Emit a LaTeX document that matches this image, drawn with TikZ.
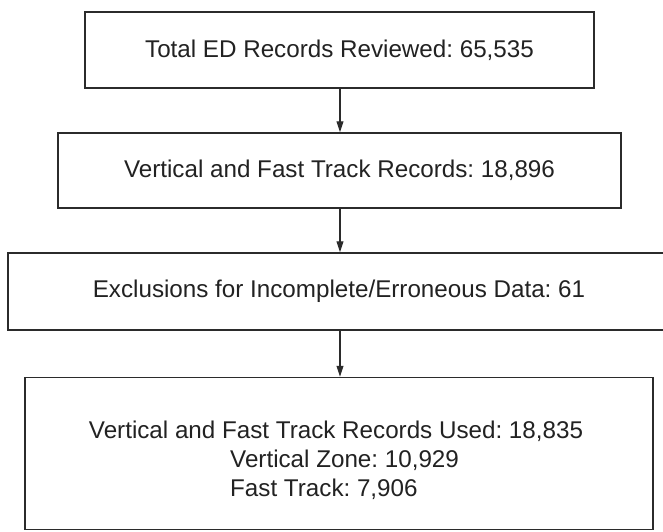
\documentclass[tikz,border=0pt]{standalone}
\usepackage{fontspec}
\setmainfont{Liberation Sans}
\usetikzlibrary{arrows.meta}
\definecolor{linec}{HTML}{2B2B2B}
\definecolor{textc}{HTML}{222222}
\tikzset{
  flowbox/.style={draw=linec, line width=1.5pt, rectangle, inner sep=0pt, text=textc,
    font=\fontsize{24.2}{29}\selectfont\frenchspacing},
  linetext/.style={inner sep=0pt, text=textc, font=\fontsize{24.2}{29}\selectfont\frenchspacing, anchor=base},
  flowarrow/.style={draw=linec, line width=1.1pt, -{Triangle[length=11pt,width=7pt]}}
}
\begin{document}
\begin{tikzpicture}[x=1pt,y=-1pt]
\useasboundingbox (0,0) rectangle (663,531);
\fill[white] (0,0) rectangle (663,531);
\node[flowbox, minimum width=509pt, minimum height=76pt] (b1) at (339.5,50) {Total ED Records Reviewed: 65,535};
\node[flowbox, minimum width=563pt, minimum height=75pt] (b2) at (339.5,170.5) {Vertical and Fast Track Records: 18,896};
\node[flowbox, minimum width=662pt, minimum height=77pt] (b3) at (339,291.5) {Exclusions for Incomplete/Erroneous Data: 61};
\node[flowbox, minimum width=628pt, minimum height=152pt] (b4) at (339,453.5) {};
\node[linetext] (l1) at (336,438.5) {Vertical and Fast Track Records Used: 18,835};
\node[linetext, anchor=base west] (l2) at (230,467.5) {Vertical Zone: 10,929};
\node[linetext, anchor=base west] (l3) at (230,496.5) {Fast Track: 7,906};
\draw[flowarrow] (b1.south -| 340,0) -- (b2.north -| 340,0);
\draw[flowarrow] (b2.south -| 340,0) -- (b3.north -| 340,0);
\draw[flowarrow] (b3.south -| 340,0) -- (b4.north -| 340,0);
\end{tikzpicture}
\end{document}
